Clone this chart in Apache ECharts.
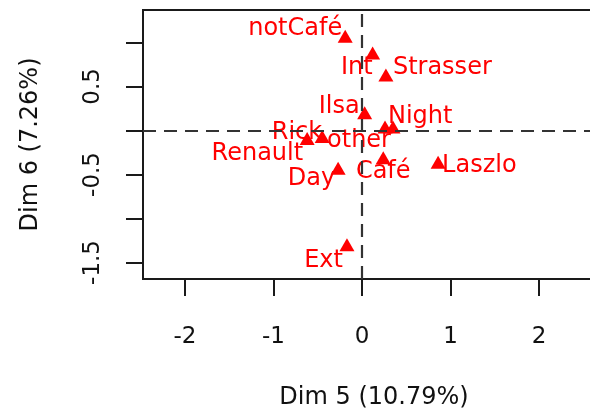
<!DOCTYPE html>
<html>
<head>
<meta charset="utf-8">
<script src="https://cdn.jsdelivr.net/npm/echarts@6/dist/echarts.min.js"></script>
<style>
html,body{margin:0;padding:0;background:#fff;}
#chart{width:590px;height:411px;}
</style>
</head>
<body>
<div id="chart"></div>
<script>
// Data
var names = ["notCafé","Int","Strasser","Ilsa","Night","other","Rick","Renault","Café","Day","Laszlo","Ext"];
var dim5  = [-0.19, 0.12, 0.27, 0.03, 0.35, 0.26, -0.45, -0.62, 0.24, -0.27, 0.86, -0.17];
var dim6  = [ 1.07, 0.88, 0.63, 0.20, 0.04, 0.04, -0.07, -0.09, -0.31, -0.43, -0.36, -1.30];
var xTicks = [-2, -1, 0, 1, 2];
var yTicks = [-1.5, -1, -0.5, 0, 0.5, 1];
var yTickLabels = [-1.5, -0.5, 0.5];
var xTitle = "Dim 5 (10.79%)";
var yTitle = "Dim 6 (7.26%)";

// Label placement (layout only): [align, dx, dy]
var labelLayout = [
  ["right", -3, -8],
  ["right", 0, 15],
  ["left", 7, -7],
  ["right", -5, -6],
  ["left", -5, -10],
  ["center", -26, 14],
  ["right", 0, -4],
  ["right", -4, 15],
  ["center", 0, 14],
  ["right", -3, 10],
  ["left", 4, 4],
  ["right", -4, 16]
];

var FONT = "DejaVu Sans";
var data = names.map(function(n, i){
  var L = labelLayout[i];
  return {
    name: n,
    value: [dim5[i], dim6[i]],
    label: { align: L[0], offset: [L[1], L[2]] }
  };
});

var chart = echarts.init(document.getElementById('chart'), null, {renderer:'canvas'});
chart.setOption({
  animation: false,
  backgroundColor: '#fff',
  grid: { left: 143, top: 10, width: 462, height: 269, outerBoundsMode: 'none', containLabel: false,
          show: true, borderColor: '#1a1a1a', borderWidth: 2, backgroundColor: 'transparent' },
  xAxis: {
    type: 'value', min: -2.475, max: 2.746,
    name: xTitle, nameLocation: 'middle', nameGap: 107,
    nameTextStyle: { fontFamily: FONT, fontSize: 24, color: '#111' },
    axisLine: { show: false, onZero: false },
    axisTick: { show: true, length: 17, customValues: xTicks, lineStyle: { color: '#1a1a1a', width: 2 } },
    axisLabel: { customValues: xTicks, margin: 47, fontFamily: FONT, fontSize: 23, color: '#111' },
    splitLine: { show: false }
  },
  yAxis: {
    type: 'value', min: -1.688, max: 1.369,
    name: yTitle, nameLocation: 'middle', nameGap: 100,
    nameTextStyle: { fontFamily: FONT, fontSize: 24, color: '#111' },
    axisLine: { show: false, onZero: false },
    axisTick: { show: true, length: 17, customValues: yTicks, lineStyle: { color: '#1a1a1a', width: 2 } },
    axisLabel: { customValues: yTickLabels, rotate: 90, margin: 38, fontFamily: FONT, fontSize: 23, color: '#111' },
    splitLine: { show: false }
  },
  series: [{
    type: 'scatter',
    symbol: 'triangle',
    symbolSize: [15, 13],
    itemStyle: { color: '#ff0000', opacity: 1 },
    label: {
      show: true, position: 'inside', verticalAlign: 'middle',
      formatter: '{b}', fontFamily: FONT, fontSize: 24, color: '#ff0000'
    },
    data: data,
    markLine: {
      silent: true, symbol: 'none', label: { show: false },
      lineStyle: { type: [13, 8], color: '#333', width: 2.2, opacity: 1 },
      data: [{ xAxis: 0 }, { yAxis: 0 }]
    },
    z: 3
  }]
});
</script>
</body>
</html>
